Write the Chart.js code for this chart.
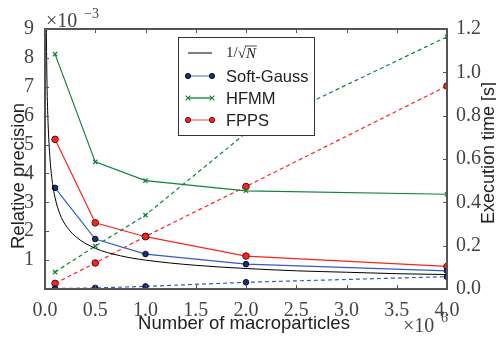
<!DOCTYPE html>
<html>
<head>
<meta charset="utf-8">
<script src="https://cdn.jsdelivr.net/npm/chart.js@4/dist/chart.umd.min.js"></script>
<style>
  html, body { margin: 0; padding: 0; background: #fff; }
  #wrap { width: 496px; height: 340px; }
</style>
</head>
<body>
<div id="wrap"><canvas id="c" width="496" height="340"></canvas></div>
<script>
// macroparticles, in units of 1e6
const xN = [0.1, 0.5, 1.0, 2.0, 4.0];
// relative precision, in units of 1e-3 (left axis)
const softGaussPrec = [3.50, 1.73, 1.21, 0.86, 0.63];
const hfmmPrec = [8.13, 4.40, 3.75, 3.40, 3.28];
const fppsPrec = [5.18, 2.29, 1.81, 1.14, 0.78];
// execution time in seconds (right axis)
const softGaussTime = [0.002, 0.005, 0.012, 0.031, 0.057];
const hfmmTime = [0.078, 0.198, 0.341, 0.72, 1.164];
const fppsTime = [0.026, 0.12, 0.243, 0.473, 0.937];
// 1/sqrt(N) reference curve
const refX = [0.011, 0.02, 0.03, 0.05, 0.075, 0.1, 0.15, 0.2, 0.3, 0.5, 0.75, 1.0, 1.5, 2.0, 2.5, 3.0, 3.5, 4.0];
const refPrec = [9.5, 7.1, 5.8, 4.5, 3.65, 3.16, 2.58, 2.24, 1.83, 1.41, 1.15, 1.0, 0.82, 0.71, 0.63, 0.58, 0.53, 0.5];

const xTicks = [0, 0.5, 1.0, 1.5, 2.0, 2.5, 3.0, 3.5, 4.0];

const BLUE = 'rgb(50,90,200)', BLUE_D = 'rgb(25,45,130)';
const GREEN = 'rgb(15,130,60)';
const RED = 'rgb(250,35,35)', RED_D = 'rgb(90,15,15)';
const AXIS = '#555';
const SERIF = '"Liberation Serif", "DejaVu Serif", serif';
const SANS = '"Liberation Sans", Arial, sans-serif';

function pts(xs, ys) { return xs.map((x, i) => ({x: x, y: ys[i]})); }

const legendItems = [
  {label: 'ref', color: '#000'},
  {label: 'Soft-Gauss', color: 'rgb(110,140,220)', mk: 'circle', fill: BLUE_D, edge: '#111'},
  {label: 'HFMM', color: GREEN, mk: 'cross'},
  {label: 'FPPS', color: 'rgb(250,110,110)', mk: 'circle', fill: RED, edge: RED_D}
];

function drawMarker(ctx, m, x, y) {
  ctx.save();
  if (m.mk === 'circle') {
    ctx.beginPath();
    ctx.arc(x, y, 2.6, 0, Math.PI * 2);
    ctx.fillStyle = m.fill; ctx.fill();
    ctx.lineWidth = 1; ctx.strokeStyle = m.edge; ctx.stroke();
  } else if (m.mk === 'cross') {
    ctx.strokeStyle = m.color; ctx.lineWidth = 1.1;
    ctx.beginPath();
    ctx.moveTo(x - 2.3, y - 2.3); ctx.lineTo(x + 2.3, y + 2.3);
    ctx.moveTo(x - 2.3, y + 2.3); ctx.lineTo(x + 2.3, y - 2.3);
    ctx.stroke();
  }
  ctx.restore();
}

const decor = {
  id: 'decor',
  afterDraw(chart) {
    const ctx = chart.ctx, a = chart.chartArea;
    const sx = chart.scales.x, sy = chart.scales.y, sy1 = chart.scales.y1;
    ctx.save();
    // inward ticks
    ctx.strokeStyle = AXIS; ctx.lineWidth = 1;
    ctx.beginPath();
    xTicks.forEach(v => {
      const px = Math.round(sx.getPixelForValue(v)) + 0.5;
      ctx.moveTo(px, a.bottom); ctx.lineTo(px, a.bottom - 4);
      ctx.moveTo(px, a.top); ctx.lineTo(px, a.top + 4);
    });
    for (let v = 0; v <= 9; v++) {
      const py = Math.round(sy.getPixelForValue(v)) + 0.5;
      ctx.moveTo(a.left, py); ctx.lineTo(a.left + 4, py);
    }
    for (let v = 0; v <= 6; v++) {
      const py = Math.round(sy1.getPixelForValue(v * 0.2)) + 0.5;
      ctx.moveTo(a.right, py); ctx.lineTo(a.right - 4, py);
    }
    ctx.stroke();
    // frame
    ctx.lineWidth = 2;
    ctx.strokeRect(a.left, a.top, a.right - a.left, a.bottom - a.top);

    // legend box
    const lx = 178, ly = 37, lw = 136, lh = 98;
    ctx.fillStyle = '#fff';
    ctx.fillRect(lx, ly, lw, lh);
    ctx.lineWidth = 1; ctx.strokeStyle = '#333';
    ctx.strokeRect(lx + 0.5, ly + 0.5, lw, lh);
    const rows = [53, 76, 98, 120];
    legendItems.forEach((it, i) => {
      const y = rows[i];
      ctx.strokeStyle = it.color; ctx.lineWidth = i === 0 ? 1 : 1.3;
      ctx.beginPath(); ctx.moveTo(188, y); ctx.lineTo(212, y); ctx.stroke();
      if (it.mk) { drawMarker(ctx, it, 188, y); drawMarker(ctx, it, 212, y); }
      ctx.fillStyle = '#222';
      ctx.textBaseline = 'middle'; ctx.textAlign = 'left';
      if (i === 0) {
        ctx.font = '15px ' + SERIF;
        ctx.fillText('1/', 226, y);
        let w = ctx.measureText('1/').width;
        ctx.fillText('\u221A', 226 + w, y + 1);
        const w2 = ctx.measureText('\u221A').width;
        ctx.font = 'italic 15px ' + SERIF;
        const nx = 226 + w + w2;
        ctx.fillText('N', nx, y + 1);
        const nw = ctx.measureText('N').width;
        ctx.lineWidth = 0.8; ctx.strokeStyle = '#222';
        ctx.beginPath(); ctx.moveTo(nx - 1, y - 7); ctx.lineTo(nx + nw + 1, y - 7); ctx.stroke();
      } else {
        ctx.font = '16.5px ' + SANS;
        ctx.fillText(it.label, 226, y + 1);
      }
    });

    // axis titles
    ctx.fillStyle = '#222';
    ctx.font = '18.5px ' + SANS;
    ctx.textAlign = 'center'; ctx.textBaseline = 'middle';
    ctx.fillText('Number of macroparticles', 244, 324);
    ctx.save(); ctx.translate(19, 176); ctx.rotate(-Math.PI / 2);
    ctx.fillText('Relative precision', 0, 0); ctx.restore();
    ctx.font = '18px ' + SANS;
    ctx.save(); ctx.translate(489, 153); ctx.rotate(-Math.PI / 2);
    ctx.fillText('Execution time [s]', 0, 0); ctx.restore();

    // offset exponents
    ctx.fillStyle = '#444';
    ctx.textAlign = 'left'; ctx.textBaseline = 'alphabetic';
    ctx.font = '20px ' + SERIF;
    ctx.fillText('\u00D710', 46, 27);
    ctx.font = '14px ' + SERIF;
    ctx.fillText('\u22123', 84, 18);
    ctx.font = '20px ' + SERIF;
    ctx.fillText('\u00D710', 403, 332);
    ctx.font = '14px ' + SERIF;
    ctx.fillText('6', 441, 322);
    ctx.restore();
  }
};

const solid = (label, data, color, extra) => Object.assign({
  label: label, data: data, yAxisID: 'y', borderColor: color, backgroundColor: color,
  borderWidth: 1.2, tension: 0, fill: false
}, extra);

new Chart(document.getElementById('c'), {
  type: 'line',
  data: {
    datasets: [
      solid('1/sqrt(N)', pts(refX, refPrec), '#000', {borderWidth: 1, pointRadius: 0, cubicInterpolationMode: 'monotone'}),
      solid('Soft-Gauss', pts(xN, softGaussPrec), BLUE, {pointRadius: 2.8, pointBackgroundColor: BLUE_D, pointBorderColor: '#111', pointBorderWidth: 1}),
      solid('HFMM', pts(xN, hfmmPrec), GREEN, {pointStyle: 'crossRot', pointRadius: 3, pointBorderColor: GREEN, pointBorderWidth: 1.2}),
      solid('FPPS', pts(xN, fppsPrec), RED, {pointRadius: 3.3, pointBackgroundColor: RED, pointBorderColor: RED_D, pointBorderWidth: 1}),
      solid('Soft-Gauss time', pts(xN, softGaussTime), BLUE, {yAxisID: 'y1', borderDash: [4, 3], pointRadius: 2.8, pointBackgroundColor: BLUE_D, pointBorderColor: '#111', pointBorderWidth: 1}),
      solid('HFMM time', pts(xN, hfmmTime), GREEN, {yAxisID: 'y1', borderDash: [4, 3], pointStyle: 'crossRot', pointRadius: 3, pointBorderColor: GREEN, pointBorderWidth: 1.2}),
      solid('FPPS time', pts(xN, fppsTime), RED, {yAxisID: 'y1', borderDash: [4, 3], pointRadius: 3.3, pointBackgroundColor: RED, pointBorderColor: RED_D, pointBorderWidth: 1})
    ]
  },
  options: {
    responsive: false,
    animation: false,
    layout: {padding: {top: 29, left: 0, right: 0, bottom: 0}},
    plugins: {legend: {display: false}, tooltip: {enabled: false}},
    scales: {
      x: {
        type: 'linear', min: 0, max: 4,
        afterBuildTicks: s => { s.ticks = xTicks.map(v => ({value: v})); },
        afterFit: s => { s.height = 51; },
        grid: {display: false}, border: {display: false},
        ticks: {padding: 2, color: '#444', font: {family: SERIF, size: 20}, maxRotation: 0,
          callback: v => Number(v).toFixed(1)}
      },
      y: {
        type: 'linear', position: 'left', min: 0, max: 9,
        afterFit: s => { s.width = 45; },
        grid: {display: false}, border: {display: false},
        ticks: {stepSize: 1, padding: 3, color: '#444', font: {family: SERIF, size: 20},
          callback: v => v === 0 ? '' : String(v)}
      },
      y1: {
        type: 'linear', position: 'right', min: 0, max: 1.2,
        afterFit: s => { s.width = 49; },
        grid: {display: false}, border: {display: false},
        ticks: {stepSize: 0.2, padding: 1, color: '#444', font: {family: SERIF, size: 20},
          callback: v => Number(v).toFixed(1)}
      }
    }
  },
  plugins: [decor]
});
</script>
</body>
</html>
